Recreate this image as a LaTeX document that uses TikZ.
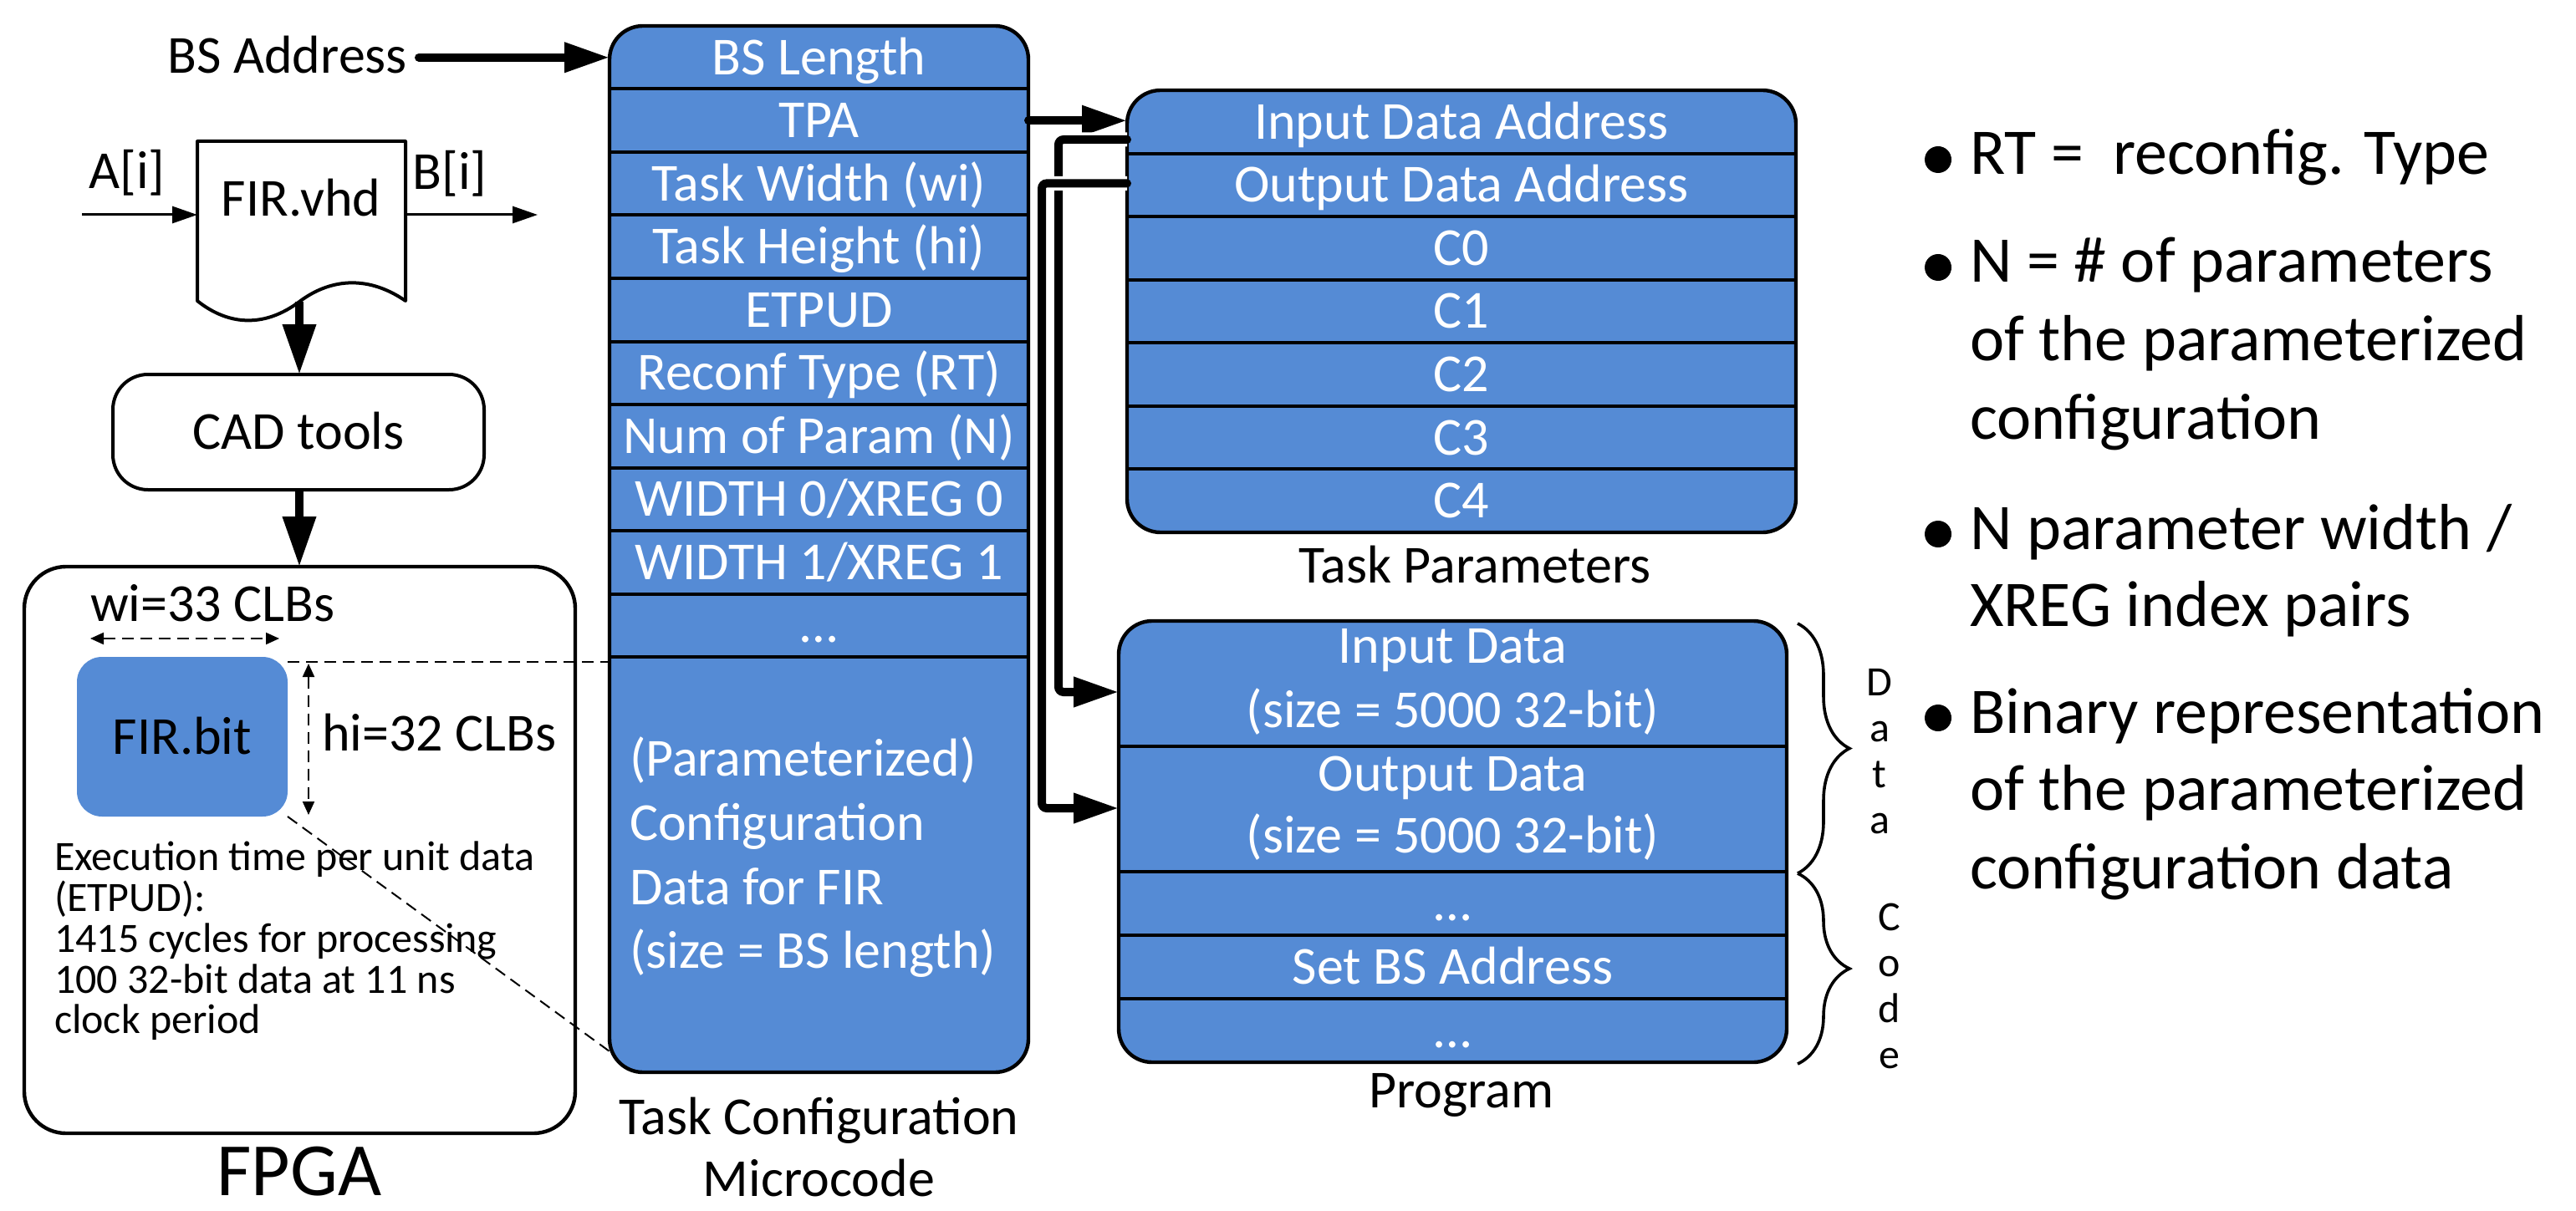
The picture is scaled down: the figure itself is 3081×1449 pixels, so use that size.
\documentclass[tikz,border=0pt]{standalone}
\usepackage{fontspec}
\setmainfont{Carlito}
\usetikzlibrary{arrows.meta,decorations.pathreplacing}
\definecolor{blu}{RGB}{85,139,213}
\newcommand\fsA{\fontsize{32}{38}\selectfont}
\newcommand\fsB{\fontsize{39}{46}\selectfont}
\newcommand\fsE{\fontsize{25}{26}\selectfont}
\newcommand\fsF{\fontsize{45}{50}\selectfont}
\newcommand\fsD{\fontsize{25}{27.5}\selectfont}
\tikzset{
 every node/.style={inner sep=0pt, outer sep=0pt},
 boxst/.style={draw=black, line width=2.2pt, fill=blu, rounded corners=20pt},
 sepst/.style={line width=2pt},
 wrow/.style={font=\fsA, text=white, text height=21.1pt, text depth=0.6pt},
 mrow/.style={wrow, minimum width=250.5pt, minimum height=37.75pt},
 trow/.style={wrow, minimum width=400pt, minimum height=37.8pt},
 prow/.style={wrow, minimum width=399.5pt, minimum height=37.8pt},
 wtxt/.style={font=\fsA, text=white, anchor=base},
 lbl/.style={font=\fsA, text height=21.1pt, text depth=0.6pt},
 conn/.style={line width=5pt, line cap=round, rounded corners=3pt, -{Triangle[length=27pt,width=17pt]}},
 halo/.style={draw=white, line width=8.5pt, rounded corners=3pt, shorten >=16pt},
 bigarr/.style={line width=5pt, -{Triangle[length=30pt,width=19pt]}},
 thinarr/.style={line width=1.5pt, -{Triangle[length=15pt,width=10pt]}},
 dimarr/.style={line width=1pt, dash pattern=on 7pt off 4pt, {Triangle[length=8pt,width=7pt]}-{Triangle[length=8pt,width=7pt]}},
 dashln/.style={line width=1pt, dash pattern=on 7pt off 4pt},
 bul/.style={font=\fsB, anchor=base west},
 exe/.style={font=\fsE, anchor=base west},
 brc/.style={line width=1.8pt, decorate, decoration={brace, amplitude=31pt}},
 vlet/.style={font=\fsD, align=center, anchor=north},
}
\begin{document}
\begin{tikzpicture}[x=0.5pt, y=-0.5pt]
\useasboundingbox (0,0) rectangle (3081,1449);

% ---------------- left: design flow ----------------
\node[lbl, anchor=east] (bsaddr) at (487,67) {BS Address};
\node[lbl] (ain) at (152,205) {A[i]};
\node[lbl] (bout) at (538,206) {B[i]};
\draw[line width=2pt, line join=round] (236,169) -- (485,169) -- (485,360)
  .. controls (443,331) and (398,331) .. (358,361)
  .. controls (318,391) and (275,391) .. (236,360) -- cycle;
\node[lbl] (firvhd) at (360,238) {FIR.vhd};
\coordinate (ainL) at (98,257);
\coordinate (docL) at (236,257);
\coordinate (docR) at (485,257);
\coordinate (boutR) at (643,257);
\coordinate (docB) at (358,361);
\draw[thinarr] (ainL) -- (docL);
\draw[thinarr] (docR) -- (boutR);
\node[lbl, draw, line width=2pt, rounded corners=21pt, minimum width=222pt, minimum height=69pt] (cad) at (357,517) {CAD tools};
\node[draw, line width=2.2pt, rounded corners=25pt, minimum width=329.5pt, minimum height=339pt] (fpga) at (358.5,1017) {};
\draw[bigarr] (docB) -- (docB |- cad.north);
\draw[bigarr] (cad.south -| docB) -- (docB |- fpga.north);

\node[lbl, fill=blu, rounded corners=15pt, minimum width=126pt, minimum height=95.5pt] (firbit) at (218,881.5) {FIR.bit};
\node[lbl, anchor=west] (witxt) at (108,723) {wi=33 CLBs};
\node[lbl, anchor=west] (hitxt) at (385,878) {hi=32 CLBs};
\coordinate (wiL) at (108,764);
\coordinate (wiR) at (334,764);
\draw[dimarr] (wiL) -- (wiR);
\coordinate (hiT) at (369,794);
\coordinate (hiB) at (369,975);
\draw[dimarr] (hiT) -- (hiB);
\node[exe] (ex1) at (65,1041) {Execution time per unit data};
\node[exe] (ex2) at (65,1090) {(ETPUD):};
\node[exe] (ex3) at (65,1139) {1415 cycles for processing};
\node[exe] (ex4) at (65,1188) {100 32-bit data at 11 ns};
\node[exe] (ex5) at (65,1236) {clock period};
\node[font=\fsF, anchor=base] (fpgalbl) at (358,1430) {FPGA};

% ---------------- task configuration microcode ----------------
\draw[boxst] (729,31) rectangle (1230,1283);
\foreach \yy in {106.5,182,257.5,333,408.5,484,559.5,635,710.5,786}
  \draw[sepst] (729,\yy) -- (1230,\yy);
\node[mrow] (bslen) at (979.5,68.75) {BS Length};
\node[mrow] (tpa) at (979.5,144.25) {TPA};
\node[mrow] (twid) at (979.5,219.75) {Task Width (wi)};
\node[mrow] (thei) at (979.5,295.25) {Task Height (hi)};
\node[mrow] (etpud) at (979.5,370.75) {ETPUD};
\node[mrow] (rtype) at (979.5,446.25) {Reconf Type (RT)};
\node[mrow] (nparam) at (979.5,521.75) {Num of Param (N)};
\node[mrow] (wx0) at (979.5,597.25) {WIDTH 0/XREG 0};
\node[mrow] (wx1) at (979.5,672.75) {WIDTH 1/XREG 1};
\node[mrow] (mdots) at (979.5,748.25) {…};
\node[wtxt, anchor=base west] (cfg1) at (753,928) {(Parameterized)};
\node[wtxt, anchor=base west] (cfg2) at (753,1005) {Configuration};
\node[wtxt, anchor=base west] (cfg3) at (753,1082) {Data for FIR};
\node[wtxt, anchor=base west] (cfg4) at (753,1158) {(size = BS length)};
\node[font=\fsA, anchor=base] (tcm1) at (979.5,1357) {Task Configuration};
\node[font=\fsA, anchor=base] (tcm2) at (979.5,1431) {Microcode};
\coordinate (mcA) at (729,792);
\coordinate (mcB) at (729,1258);
\draw[dashln] ([yshift=-3pt]firbit.north east) -- (mcA);
\draw[dashln] (firbit.south east) -- (mcB);

% ---------------- task parameters ----------------
\draw[boxst] (1348,108) rectangle (2148,637);
\foreach \yy in {183.6,259.1,334.7,410.3,485.9,561.4}
  \draw[sepst] (1348,\yy) -- (2148,\yy);
\node[trow] (inaddr) at (1748,145.8) {Input Data Address};
\node[trow] (outaddr) at (1748,221.4) {Output Data Address};
\node[trow] (c0) at (1748,297.0) {C0};
\node[trow] (c1) at (1748,372.5) {C1};
\node[trow] (c2) at (1748,448.1) {C2};
\node[trow] (c3) at (1748,523.7) {C3};
\node[trow] (c4) at (1748,599.3) {C4};
\node[font=\fsA, anchor=base] (tplbl) at (1764,697) {Task Parameters};

% ---------------- program ----------------
\draw[boxst] (1338,743) rectangle (2137,1271);
\foreach \yy in {893,1043,1119,1195}
  \draw[sepst] (1338,\yy) -- (2137,\yy);
\node[minimum width=399.5pt, minimum height=75pt] (indata) at (1737.5,818) {};
\node[minimum width=399.5pt, minimum height=75pt] (outdata) at (1737.5,968) {};
\node[wtxt] (indata1) at (1737.5,793) {Input Data};
\node[wtxt] (indata2) at (1737.5,870) {(size = 5000 32-bit)};
\node[wtxt] (outdata1) at (1737.5,946) {Output Data};
\node[wtxt] (outdata2) at (1737.5,1020) {(size = 5000 32-bit)};
\node[prow] (pdots1) at (1737.5,1081) {…};
\node[prow] (setbs) at (1737.5,1157) {Set BS Address};
\node[prow] (pdots2) at (1737.5,1233) {…};
\node[font=\fsA, anchor=base] (proglbl) at (1748,1325) {Program};

% braces
\draw[brc] (2150,746) -- (2150,1045);
\draw[brc] (2150,1045) -- (2150,1273);
\node[vlet] (datalbl) at (2248,800) {D\\a\\t\\a};
\node[vlet] (codelbl) at (2260,1081) {C\\o\\d\\e};

% ---------------- connectors ----------------
\draw[conn] ([xshift=7pt]bsaddr.east |- bslen.west) -- (bslen.west);
\draw[conn] (tpa.east) -- (tpa.east -| inaddr.west);
\draw[halo] ([yshift=-10.6pt]inaddr.west) -- ++(-82,0) |- ([yshift=-5pt]indata.west);
\draw[conn] ([yshift=-10.6pt]inaddr.west) -- ++(-82,0) |- ([yshift=-5pt]indata.west);
\draw[halo] ([yshift=1pt]outaddr.west) -- ++(-102,0) |- ([yshift=0.5pt]outdata.west);
\draw[conn] ([yshift=1pt]outaddr.west) -- ++(-102,0) |- ([yshift=0.5pt]outdata.west);

% ---------------- bullets ----------------
\foreach \yy in {191,320,639,859}
  \fill (2318,\yy) circle (8pt);
\node[bul] (b1) at (2356,209) {RT = \ reconfig. Type};
\node[bul] (b2a) at (2356,338) {N = \# of parameters};
\node[bul] (b2b) at (2356,431) {of the parameterized};
\node[bul] (b2c) at (2356,525) {configuration};
\node[bul] (b3a) at (2356,657) {N parameter width /};
\node[bul] (b3b) at (2356,749) {XREG index pairs};
\node[bul] (b4a) at (2356,877) {Binary representation};
\node[bul] (b4b) at (2356,969) {of the parameterized};
\node[bul] (b4c) at (2356,1063) {configuration data};
\end{tikzpicture}
\end{document}
